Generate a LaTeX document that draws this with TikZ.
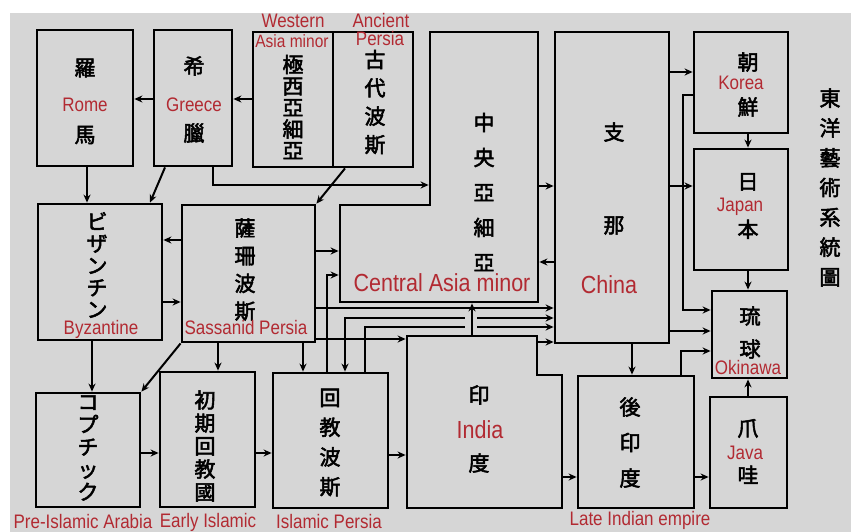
\documentclass[tikz,border=0pt]{standalone}
\usepackage{fontspec}
\usepackage{graphicx}
\usetikzlibrary{arrows.meta}
\newfontfamily\jp[FakeBold=2.5]{Noto Sans CJK JP}
\newfontfamily\lblfont{Liberation Sans}
\definecolor{paper}{RGB}{214,214,214}
\definecolor{labred}{RGB}{178,42,50}
\lineskiplimit=-100pt
\newcommand\lbl[1]{\scalebox{1}[1.15]{#1}}
\newcommand\mkbox[5]{\node[box, minimum width={#4-#2}, minimum height={#5-#3}] (#1) at ({(#2+#4)/2},{(#3+#5)/2}) {};}
\newcommand\mkarea[5]{\node[area, minimum width={#4-#2}, minimum height={#5-#3}] (#1) at ({(#2+#4)/2},{(#3+#5)/2}) {};}
\begin{document}
\begin{tikzpicture}[x=1pt,y=-1pt,
  box/.style={draw=black, line width=2.8pt, inner sep=0pt, rectangle},
  area/.style={draw=none, inner sep=0pt, outer sep=1.4pt, rectangle},
  con/.style={draw=black, line width=2pt},
  arr/.style={con, -{Stealth[length=8pt,width=7pt]}},
  rarr/.style={con, {Stealth[length=8pt,width=7pt]}-},
  jpv/.style={font=\jp\fontsize{21}{#1}\selectfont, align=center, inner sep=0pt},
  lab/.style={text=labred, font=\lblfont\fontsize{17}{17}\selectfont, inner sep=0pt},
  labbig/.style={text=labred, font=\lblfont\fontsize{21.5}{21.5}\selectfont, inner sep=0pt}]
\fill[white] (0,0) rectangle (851,532);
\fill[paper] (10,13) rectangle (851,532);
\useasboundingbox (0,0) rectangle (851,532);

% boxes
\mkbox{rome}{37}{30}{133}{166}
\mkbox{greece}{154}{30}{232}{166}
\mkbox{wasia}{253}{32}{333}{167}
\mkbox{apersia}{333}{32}{413}{167}
\mkbox{china}{555}{32}{669}{343}
\mkbox{korea}{694}{32}{788}{133}
\mkbox{japan}{694}{149}{788}{270}
\mkbox{okinawa}{712}{291}{787}{378}
\mkbox{java}{710}{397}{787}{508}
\mkbox{lateind}{578}{376}{694}{508}
\mkbox{ipersia}{273}{373}{388}{508}
\mkbox{early}{160}{372}{255}{507}
\mkbox{coptic}{36}{393}{140}{507}
\mkbox{byz}{38}{204}{162}{340}
\mkbox{sassanid}{182}{205}{315}{342}

% Central Asia (L-shaped)
\mkarea{casia}{430}{32}{538}{302}
\coordinate (casiaL) at (338.6,205);
\draw[line width=2.8pt, line join=miter] (430,32) -- (538,32) -- (538,302) -- (340,302) -- (340,205) -- (430,205) -- cycle;
% India (notched)
\mkarea{india}{407}{336}{562}{508}
\coordinate (indN) at (538.4,336);
\draw[line width=2.8pt, line join=miter] (407,336) -- (537,336) -- (537,375) -- (562,375) -- (562,508) -- (407,508) -- cycle;

% Japanese texts
\node[jpv=67] (t-rome) at (85,101.5) {羅\\馬};
\node[jpv=67] (t-greece) at (194,99.5) {希\\臘};
\node[jpv=21.5] (t-wasia) at (293,107) {極\\西\\亞\\細\\亞};
\node[jpv=28.3] (t-apersia) at (375,102) {古\\代\\波\\斯};
\node[jpv=35] (t-casia) at (484,192) {中\\央\\亞\\細\\亞};
\node[jpv=93] (t-china) at (614,178.5) {支\\那};
\node[jpv=45] (t-korea) at (748,84.5) {朝\\鮮};
\node[jpv=48] (t-japan) at (748,206) {日\\本};
\node[jpv=33] (t-okinawa) at (750,332.5) {琉\\球};
\node[jpv=47] (t-java) at (748,451.5) {爪\\哇};
\node[jpv=35.5] (t-lateind) at (630,442.5) {後\\印\\度};
\node[jpv=68] (t-india) at (479,429) {印\\度};
\node[jpv=29.7] (t-ipersia) at (330,442.5) {回\\教\\波\\斯};
\node[jpv=23] (t-early) at (205,446) {初\\期\\回\\教\\國};
\node[jpv=22.5] (t-coptic) at (88,448) {コ\\プ\\チ\\ッ\\ク};
\node[jpv=22] (t-byz) at (97,265) {ビ\\ザ\\ン\\チ\\ン};
\node[jpv=27.7] (t-sassanid) at (245,269.5) {薩\\珊\\波\\斯};
\node[jpv=29.8] (title) at (830,187.5) {東\\洋\\藝\\術\\系\\統\\圖};

% connectors
\draw[arr] (greece.west |- 0,99) -- (rome.east |- 0,99);
\draw[arr] (wasia.west |- 0,99) -- (greece.east |- 0,99);
\draw[arr] (rome.south -| 87,0) -- (byz.north -| 87,0);
\draw[arr] (greece.south -| 165,0) -- (byz.north -| 150,0);
\draw[arr] (greece.south -| 213,0) |- (casia.west |- 0,185);
\draw[arr] (apersia.south -| 345,0) -- (sassanid.north east);
\draw[arr] (sassanid.west |- 0,240) -- (byz.east |- 0,240);
\draw[arr] (byz.east |- 0,302) -- (sassanid.west |- 0,302);
\draw[arr] (byz.south -| 92,0) -- (coptic.north -| 92,0);
\draw[arr] (sassanid.south west) -- (coptic.north east);
\draw[arr] (sassanid.south -| 218,0) -- (early.north -| 218,0);
\draw[arr] (coptic.east |- 0,453) -- (early.west |- 0,453);
\draw[arr] (early.east |- 0,453) -- (ipersia.west |- 0,453);
\draw[arr] (ipersia.east |- 0,455) -- (india.west |- 0,455);
\draw[arr] (india.east |- 0,477) -- (lateind.west |- 0,477);
\draw[arr] (lateind.east |- 0,477) -- (java.west |- 0,477);
\draw[arr] (java.north -| 748,0) -- (okinawa.south -| 748,0);
\draw[arr] (korea.south -| 748,0) -- (japan.north -| 748,0);
\draw[arr] (japan.south -| 748,0) -- (okinawa.north -| 748,0);
\draw[arr] (china.east |- 0,72) -- (korea.west |- 0,72);
\draw[arr] (china.east |- 0,186) -- (japan.west |- 0,186);
\draw[arr] (korea.west |- 0,95) -| (683,310) -- (okinawa.west |- 0,310);
\draw[arr] (china.east |- 0,331) -- (okinawa.west |- 0,331);
\draw[arr] (lateind.north -| 681,0) |- (okinawa.west |- 0,351);
\draw[arr] (china.south -| 632,0) -- (lateind.north -| 632,0);
\draw[arr] (casia.east |- 0,186) -- (china.west |- 0,186);
\draw[arr] (china.west |- 0,262) -- (casia.east |- 0,262);
\draw[arr] (sassanid.east |- 0,251) -- (casiaL |- 0,251);
\draw[arr] (ipersia.north -| 327,0) |- (casiaL |- 0,275);
\draw[arr] (sassanid.east |- 0,308) -- (china.west |- 0,308);
\draw[rarr] (ipersia.north -| 345,0) |- (465,318);
\draw[arr] (477,318) -- (china.west |- 0,318);
\draw[con] (ipersia.north -| 365,0) |- (465,327);
\draw[arr] (477,327) -- (china.west |- 0,327);
\draw[arr] (sassanid.east |- 0,339) -- (india.west |- 0,339);
\draw[arr] (sassanid.south -| 303,0) -- (ipersia.north -| 303,0);
\draw[arr] (india.north -| 472,0) -- (casia.south -| 472,0);
\draw[arr] (indN |- 0,342) -- (china.west |- 0,342);

% red labels
\node[lab] (l-western) at (293,21) {\lbl{Western}};
\node[lab, font=\lblfont\fontsize{15.5}{15.5}\selectfont] (l-asiaminor) at (292,41.5) {\lbl{Asia minor}};
\node[lab] (l-ancient) at (381,21) {\lbl{Ancient}};
\node[lab] (l-persia) at (380,39) {\lbl{Persia}};
\node[lab] (l-rome) at (85,105) {\lbl{Rome}};
\node[lab] (l-greece) at (194,105) {\lbl{Greece}};
\node[lab] (l-korea) at (741,83) {\lbl{Korea}};
\node[lab] (l-japan) at (740,207) {\lbl{Japan}};
\node[labbig] (l-casia) at (442,283) {\lbl{Central Asia minor}};
\node[labbig] (l-china) at (609,285) {\lbl{China}};
\node[lab] (l-byz) at (101,329) {\lbl{Byzantine}};
\node[lab] (l-sassanid) at (246,328) {\lbl{Sassanid Persia}};
\node[lab] (l-okinawa) at (748,368) {\lbl{Okinawa}};
\node[lab] (l-java) at (745,453) {\lbl{Java}};
\node[labbig] (l-india) at (480,430) {\lbl{India}};
\node[lab] (l-coptic) at (83,522) {\lbl{Pre-Islamic Arabia}};
\node[lab] (l-early) at (208,522) {\lbl{Early Islamic}};
\node[lab] (l-ipersia) at (329,522) {\lbl{Islamic Persia}};
\node[lab] (l-lateind) at (640,520) {\lbl{Late Indian empire}};
\end{tikzpicture}
\end{document}
